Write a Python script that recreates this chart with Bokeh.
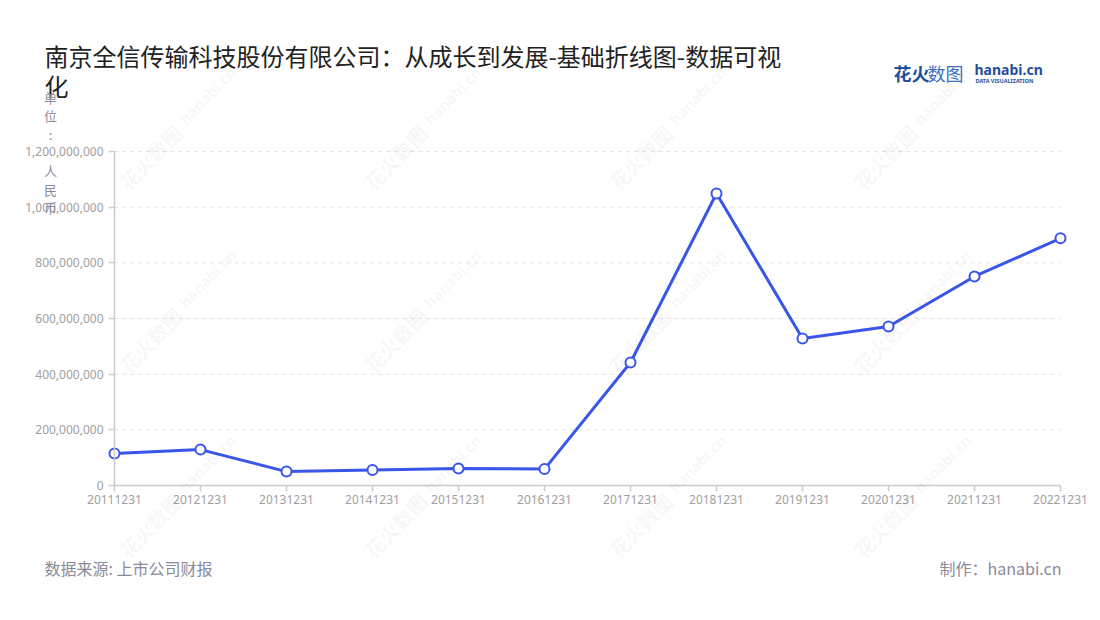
from bokeh.plotting import figure
from bokeh.models import Range1d, FixedTicker, NumeralTickFormatter, Label, ColumnDataSource
from bokeh.embed import file_html
from bokeh.resources import INLINE

# ---- data ----
categories = ["20111231", "20121231", "20131231", "20141231", "20151231", "20161231",
              "20171231", "20181231", "20191231", "20201231", "20211231", "20221231"]
values = [115000000, 129000000, 50000000, 56000000, 61000000, 59000000,
          442000000, 1049000000, 528000000, 571000000, 751000000, 888000000]
y_ticks = [0, 200000000, 400000000, 600000000, 800000000, 1000000000, 1200000000]

title_line1 = "南京全信传输科技股份有限公司：从成长到发展-基础折线图-数据可视"
title_line2 = "化"
y_label = "单位: 人民币"
source_text = "数据来源: 上市公司财报"
maker_text = "制作：hanabi.cn"

CJK = "Noto Sans CJK SC"
LINE_COLOR = "#3a56e8"

# ---- layout (pixels) ----
W, H = 1092, 612
PL, PR, PT, PB = 114, 1060, 151, 485          # plot area edges in page pixels
n = len(categories)
y_max = y_ticks[-1]
x_per_px = (n - 1) / (PR - PL)
y_per_px = y_max / (PB - PT)
x_range = Range1d(-PL * x_per_px, (n - 1) + (W - PR) * x_per_px)
y_range = Range1d(-(H - PB) * y_per_px, y_max + PT * y_per_px)

xs = list(range(n))
src = ColumnDataSource(data=dict(x=xs, y=values))

p = figure(width=W, height=H, output_backend="svg", toolbar_location=None,
           x_range=x_range, y_range=y_range,
           min_border=0, min_border_left=0, min_border_right=0, min_border_top=0, min_border_bottom=0)
p.outline_line_color = None
p.background_fill_color = "white"
p.border_fill_color = "white"
p.grid.visible = False

# axes, drawn at the data origin
p.xaxis.fixed_location = 0
p.yaxis.fixed_location = 0
p.xaxis.bounds = (0, n - 1)
p.yaxis.bounds = (0, y_max)
p.xaxis.ticker = FixedTicker(ticks=xs)
p.xaxis.major_label_overrides = {i: c for i, c in enumerate(categories)}
p.yaxis.ticker = FixedTicker(ticks=y_ticks)
p.yaxis.formatter = NumeralTickFormatter(format="0,0")
for ax in (p.xaxis[0], p.yaxis[0]):
    ax.axis_line_color = "#cccccc"
    ax.axis_line_width = 1.5
    ax.major_tick_line_color = "#cccccc"
    ax.major_tick_line_width = 1.5
    ax.major_tick_out = 6
    ax.major_tick_in = 0
    ax.minor_tick_line_color = None
    ax.major_label_text_color = "#a0a0a0"
    ax.major_label_text_font = "Noto Sans"
    ax.major_label_text_font_size = "12px"
p.xaxis.major_label_standoff = 3
p.yaxis.major_label_standoff = 5

# dashed horizontal grid across the plot area
grid_ticks = y_ticks[1:]
p.segment(x0=[0] * len(grid_ticks), x1=[n - 1] * len(grid_ticks), y0=grid_ticks, y1=grid_ticks,
          line_color="#e3e3e3", line_dash="4 4", line_width=1)


def lab(px, py, text, **kw):
    # px, py: page pixel position (origin top-left)
    p.add_layout(Label(x=px, y=H - py, x_units="screen", y_units="screen", text=text,
                       text_baseline="middle", **kw))


# watermarks (decorative)
wm_cx = [180, 425, 670, 915]
wm_cy = [127, 310, 495]
for cx in wm_cx:
    for cy in wm_cy:
        lab(cx - 30, cy + 30, "花火数图", angle=0.8, text_align="center",
            text_font=CJK, text_font_style="bold", text_font_size="20px",
            text_color="#000000", text_alpha=0.05)
        lab(cx + 27, cy - 32, "hanabi.cn", angle=0.8, text_align="center",
            text_font="Noto Sans", text_font_style="bold", text_font_size="15px",
            text_color="#000000", text_alpha=0.05)
        lab(cx + 34, cy - 25, "DATA VISUALIZATION", angle=0.8, text_align="center",
            text_font="Noto Sans", text_font_size="5px",
            text_color="#000000", text_alpha=0.05)

# data
p.line("x", "y", source=src, line_color=LINE_COLOR, line_width=3)
p.scatter("x", "y", source=src, size=10, fill_color="white", line_color=LINE_COLOR, line_width=2)

# title
lab(44, 55, title_line1, text_align="left", text_font=CJK, text_font_size="24px", text_color="#222222")
lab(44, 85, title_line2, text_align="left", text_font=CJK, text_font_size="24px", text_color="#222222")

# vertical y-axis unit label
for i, ch in enumerate(y_label):
    if ch.strip() == "":
        continue
    lab(50, 97 + i * 18.3, ch, text_align="center", text_font=CJK,
        text_font_size="13px", text_color="#8c8ca0")

# logo
lab(893, 72, "花火", text_align="left", text_font=CJK, text_font_style="bold",
    text_font_size="18px", text_color="#1d4f9e")
lab(927, 72, "数图", text_align="left", text_font=CJK,
    text_font_size="18px", text_color="#3d6fc2")
lab(974, 69, "hanabi.cn", text_align="left", text_font="Noto Sans", text_font_style="bold",
    text_font_size="14px", text_color="#1d4f9e")
lab(975, 80, "DATA VISUALIZATION", text_align="left", text_font="Noto Sans",
    text_font_style="bold", text_font_size="5.5px", text_color="#1d4f9e")

# footer
lab(44, 567, source_text, text_align="left", text_font=CJK, text_font_size="16px", text_color="#8a8a9a")
lab(1061, 567, maker_text, text_align="right", text_font=CJK, text_font_size="16px", text_color="#8a8a9a")

open("out.html", "w").write(file_html(p, INLINE))
